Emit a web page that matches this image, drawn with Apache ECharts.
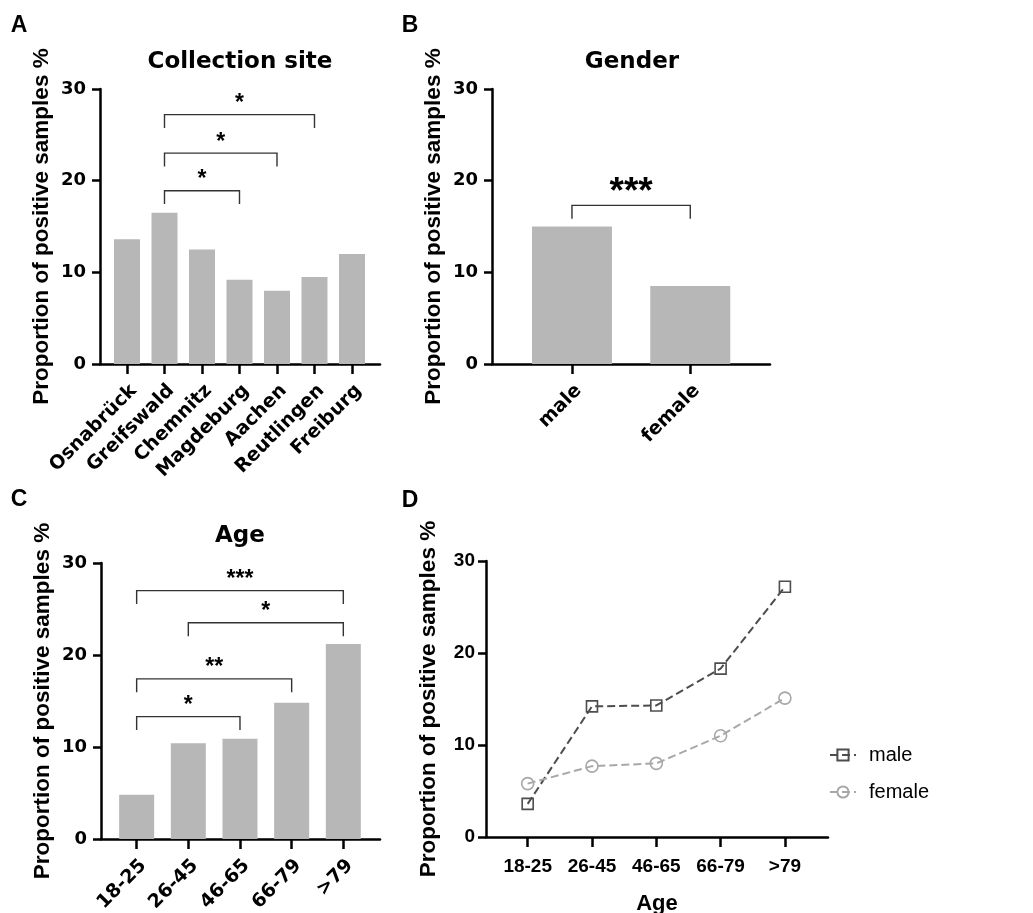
<!DOCTYPE html>
<html><head><meta charset="utf-8">
<script src="https://cdn.jsdelivr.net/npm/echarts@6/dist/echarts.min.js"></script>
<style>html,body{margin:0;padding:0;background:#fff}#c{width:1033px;height:913px}</style>
</head><body><div id="c"></div>
<script>
// ---------- data ----------
const siteCats = ['Osnabrück','Greifswald','Chemnitz','Magdeburg','Aachen','Reutlingen','Freiburg'];
const siteValues = [13.6, 16.5, 12.5, 9.2, 8.0, 9.5, 12.0];
const genderCats = ['male','female'];
const genderValues = [15.0, 8.5];
const ageCats = ['18-25','26-45','46-65','66-79','>79'];
const ageValues = [4.8, 10.4, 10.9, 14.8, 21.2];
const maleByAge = [3.6, 14.2, 14.3, 18.3, 27.2];
const femaleByAge = [5.8, 7.7, 8.0, 11.0, 15.1];
// significance brackets: [from index, to index, bracket height]
const siteBrackets = [[1, 3, 18.9], [1, 4, 23.0], [1, 5, 27.2]];
const siteStars = ['*', '*', '*'];
const genderBrackets = [[0, 1, 17.3]];
const genderStars = ['***'];
const ageBrackets = [[0, 2, 13.3], [0, 3, 17.4], [1, 4, 23.5], [0, 4, 27.0]];
const ageStars = ['*', '**', '*', '***'];

// ---------- styling ----------
const WIDE = "'DejaVu Sans', sans-serif";
const ARIAL = "'Liberation Sans', Arial, sans-serif";
const AX = {lineStyle: {color: '#000', width: 2.5}};
const BAR = '#b7b7b7';

function yAxis(gi, font, size, margin, gap) {
  return {
    type: 'value', gridIndex: gi, min: 0, max: 30, interval: 10,
    axisLine: {show: true, onZero: false, ...AX}, axisTick: {show: true, length: 8, ...AX},
    splitLine: {show: false},
    axisLabel: {color: '#000', fontFamily: font, fontWeight: 'bold', fontSize: size, margin: margin},
    name: 'Proportion of positive samples %', nameLocation: 'middle', nameGap: gap, nameRotate: 90,
    nameTextStyle: {color: '#000', fontFamily: ARIAL, fontWeight: 'bold', fontSize: 22.5}
  };
}
function xAxis(gi, cats, min, max, opts) {
  const idx = cats.map((c, i) => i);
  return Object.assign({
    type: 'value', gridIndex: gi, min: min, max: max,
    axisLine: {show: true, onZero: false, ...AX},
    axisTick: {show: true, length: 10, customValues: idx, ...AX},
    splitLine: {show: false},
    axisLabel: {customValues: idx, formatter: v => cats[Math.round(v)], color: '#000',
      fontFamily: WIDE, fontWeight: 'bold', fontSize: 19, rotate: 45, margin: 17, verticalAlign: 'top'}
  }, opts || {});
}
function barSeries(gi, vals, w) {
  return {type: 'bar', xAxisIndex: gi, yAxisIndex: gi, barWidth: w, silent: true,
    itemStyle: {color: BAR}, data: vals.map((v, i) => [i, v])};
}
function bracketSeries(gi, brackets, stars, starSize, starDy) {
  const DROP = 1.45;
  return {
    type: 'custom', xAxisIndex: gi, yAxisIndex: gi, silent: true,
    data: brackets,
    renderItem: function (params, api) {
      const x1 = api.value(0), x2 = api.value(1), top = api.value(2);
      const p1 = api.coord([x1, top - DROP]), p2 = api.coord([x1, top]);
      const p3 = api.coord([x2, top]), p4 = api.coord([x2, top - DROP]);
      return {type: 'group', children: [
        {type: 'polyline', shape: {points: [p1, p2, p3, p4]},
          style: {stroke: '#333', lineWidth: 1.4, fill: null}},
        {type: 'text', x: (p2[0] + p3[0]) / 2, y: p2[1] - starDy,
          style: {text: stars[params.dataIndex], fill: '#000', font: 'bold ' + starSize + 'px ' + ARIAL,
            align: 'center', verticalAlign: 'middle'}}
      ]};
    }
  };
}
function label(text, x, y, size, font, align) {
  return {type: 'text', x: x, y: y, silent: true,
    style: {text: text, fill: '#000', font: 'bold ' + size + 'px ' + font, align: align || 'center', verticalAlign: 'middle'}};
}

const chart = echarts.init(document.getElementById('c'), null, {renderer: 'canvas'});
chart.setOption({
  backgroundColor: '#fff',
  animation: false,
  grid: [
    {left: 100, top: 89, width: 280, height: 275, outerBoundsMode: 'none', containLabel: false},
    {left: 492, top: 89, width: 278, height: 275, outerBoundsMode: 'none', containLabel: false},
    {left: 101, top: 563, width: 279, height: 276, outerBoundsMode: 'none', containLabel: false},
    {left: 486, top: 561, width: 342, height: 276, outerBoundsMode: 'none', containLabel: false}
  ],
  xAxis: [
    xAxis(0, siteCats, -0.72, 6.747),
    xAxis(1, genderCats, -0.676, 1.674),
    xAxis(2, ageCats, -0.69, 4.71),
    xAxis(3, ageCats, -0.648, 4.67, {
      axisLabel: {customValues: [0,1,2,3,4], formatter: v => ageCats[Math.round(v)], color: '#000',
        fontFamily: ARIAL, fontWeight: 'bold', fontSize: 19, margin: 20},
      name: 'Age', nameLocation: 'middle', nameGap: 56,
      nameTextStyle: {color: '#000', fontFamily: ARIAL, fontWeight: 'bold', fontSize: 22}
    })
  ],
  yAxis: [
    yAxis(0, WIDE, 18, 14, 47),
    yAxis(1, WIDE, 18, 14, 47),
    yAxis(2, WIDE, 18, 14, 47),
    yAxis(3, ARIAL, 19, 11, 46)
  ],
  legend: {
    orient: 'vertical', left: 829, top: 745, padding: 0, itemWidth: 26, itemHeight: 14, itemGap: 17,
    textStyle: {color: '#000', fontFamily: ARIAL, fontSize: 20, padding: [0, 0, 0, 8]},
    data: ['male', 'female']
  },
  graphic: [
    label('A', 19, 26, 23, ARIAL), label('B', 410, 26, 23, ARIAL),
    label('C', 19, 500, 23, ARIAL), label('D', 410, 501, 23, ARIAL),
    label('Collection site', 240, 62, 23, WIDE),
    label('Gender', 632, 62, 23, WIDE),
    label('Age', 240, 536, 23, WIDE)
  ],
  series: [
    barSeries(0, siteValues, 26),
    bracketSeries(0, siteBrackets, siteStars, 23, 11),
    barSeries(1, genderValues, 80),
    bracketSeries(1, genderBrackets, genderStars, 37, 12.5),
    barSeries(2, ageValues, 35),
    bracketSeries(2, ageBrackets, ageStars, 23, 11),
    {name: 'male', type: 'line', xAxisIndex: 3, yAxisIndex: 3, symbol: 'rect', symbolSize: 11,
      lineStyle: {type: 'dashed', width: 2, color: '#4d4d4d'},
      itemStyle: {color: 'transparent', borderColor: '#4d4d4d', borderWidth: 1.6},
      data: maleByAge.map((v, i) => [i, v])},
    {name: 'female', type: 'line', xAxisIndex: 3, yAxisIndex: 3, symbol: 'circle', symbolSize: 12,
      lineStyle: {type: 'dashed', width: 2, color: '#a8a8a8'},
      itemStyle: {color: 'transparent', borderColor: '#a8a8a8', borderWidth: 1.6},
      data: femaleByAge.map((v, i) => [i, v])}
  ]
});
</script></body></html>
